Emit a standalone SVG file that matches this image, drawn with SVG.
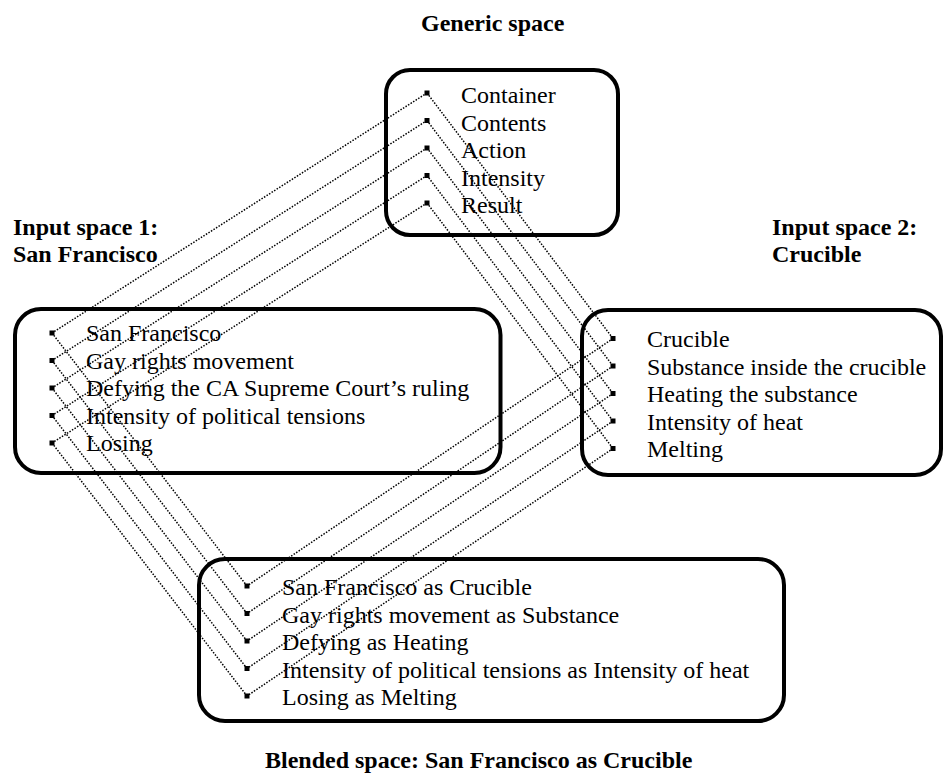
<svg xmlns="http://www.w3.org/2000/svg" width="946" height="775" viewBox="0 0 946 775">
<style>
.box{fill:none;stroke:#000;stroke-width:4}
.t{font-family:"Liberation Serif","Times New Roman",serif;font-size:24px;fill:#000}
.h{font-family:"Liberation Serif","Times New Roman",serif;font-size:24px;font-weight:bold;fill:#000}
.c line{stroke:#000;stroke-width:1.5;stroke-dasharray:1.5 1.5;fill:none}
.b{fill:#000}
</style>
<rect width="946" height="775" fill="#fff"/>
<g id="connectors" class="c">
<line x1="427" y1="93" x2="52" y2="333"/>
<line x1="427" y1="120.5" x2="52" y2="360.5"/>
<line x1="427" y1="148" x2="52" y2="388"/>
<line x1="427" y1="175.5" x2="52" y2="415.5"/>
<line x1="427" y1="203" x2="52" y2="443"/>
<line x1="427" y1="93" x2="613" y2="338.5"/>
<line x1="427" y1="120.5" x2="613" y2="366"/>
<line x1="427" y1="148" x2="613" y2="393.5"/>
<line x1="427" y1="175.5" x2="613" y2="421"/>
<line x1="427" y1="203" x2="613" y2="448.5"/>
<line x1="52" y1="333" x2="247" y2="586"/>
<line x1="52" y1="360.5" x2="247" y2="613.5"/>
<line x1="52" y1="388" x2="247" y2="641"/>
<line x1="52" y1="415.5" x2="247" y2="668.5"/>
<line x1="52" y1="443" x2="247" y2="696"/>
<line x1="613" y1="338.5" x2="247" y2="586"/>
<line x1="613" y1="366" x2="247" y2="613.5"/>
<line x1="613" y1="393.5" x2="247" y2="641"/>
<line x1="613" y1="421" x2="247" y2="668.5"/>
<line x1="613" y1="448.5" x2="247" y2="696"/>
</g>
<g id="generic">
<text class="h" x="421" y="31">Generic space</text>
<rect class="box" x="386" y="70" width="232" height="165" rx="24"/>
<rect class="b" x="424.5" y="90.5" width="5" height="5"/>
<rect class="b" x="424.5" y="118" width="5" height="5"/>
<rect class="b" x="424.5" y="145.5" width="5" height="5"/>
<rect class="b" x="424.5" y="173" width="5" height="5"/>
<rect class="b" x="424.5" y="200.5" width="5" height="5"/>
<text class="t" x="461" y="103">Container</text>
<text class="t" x="461" y="130.5">Contents</text>
<text class="t" x="461" y="158">Action</text>
<text class="t" x="461" y="185.5">Intensity</text>
<text class="t" x="461" y="213">Result</text>
</g>
<g id="input1">
<text class="h" x="13" y="235">Input space 1:</text>
<text class="h" x="13" y="262">San Francisco</text>
<rect class="box" x="15" y="309" width="485.5" height="164" rx="26"/>
<rect class="b" x="49.5" y="330.5" width="5" height="5"/>
<rect class="b" x="49.5" y="358" width="5" height="5"/>
<rect class="b" x="49.5" y="385.5" width="5" height="5"/>
<rect class="b" x="49.5" y="413" width="5" height="5"/>
<rect class="b" x="49.5" y="440.5" width="5" height="5"/>
<text class="t" x="86" y="341">San Francisco</text>
<text class="t" x="86" y="368.5">Gay rights movement</text>
<text class="t" x="86" y="396">Defying the CA Supreme Court’s ruling</text>
<text class="t" x="86" y="423.5">Intensity of political tensions</text>
<text class="t" x="86" y="451">Losing</text>
</g>
<g id="input2">
<text class="h" x="772" y="235">Input space 2:</text>
<text class="h" x="772" y="262">Crucible</text>
<rect class="box" x="582" y="310" width="359" height="165" rx="26"/>
<rect class="b" x="610.5" y="336" width="5" height="5"/>
<rect class="b" x="610.5" y="363.5" width="5" height="5"/>
<rect class="b" x="610.5" y="391" width="5" height="5"/>
<rect class="b" x="610.5" y="418.5" width="5" height="5"/>
<rect class="b" x="610.5" y="446" width="5" height="5"/>
<text class="t" x="647" y="347">Crucible</text>
<text class="t" x="647" y="374.5">Substance inside the crucible</text>
<text class="t" x="647" y="402">Heating the substance</text>
<text class="t" x="647" y="429.5">Intensity of heat</text>
<text class="t" x="647" y="457">Melting</text>
</g>
<g id="blended">
<rect class="box" x="199" y="559" width="585" height="162" rx="26"/>
<rect class="b" x="244.5" y="583.5" width="5" height="5"/>
<rect class="b" x="244.5" y="611" width="5" height="5"/>
<rect class="b" x="244.5" y="638.5" width="5" height="5"/>
<rect class="b" x="244.5" y="666" width="5" height="5"/>
<rect class="b" x="244.5" y="693.5" width="5" height="5"/>
<text class="t" x="282" y="595">San Francisco as Crucible</text>
<text class="t" x="282" y="622.5">Gay rights movement as Substance</text>
<text class="t" x="282" y="650">Defying as Heating</text>
<text class="t" x="282" y="677.5">Intensity of political tensions as Intensity of heat</text>
<text class="t" x="282" y="705">Losing as Melting</text>
<text class="h" x="265" y="768">Blended space: San Francisco as Crucible</text>
</g>
</svg>
